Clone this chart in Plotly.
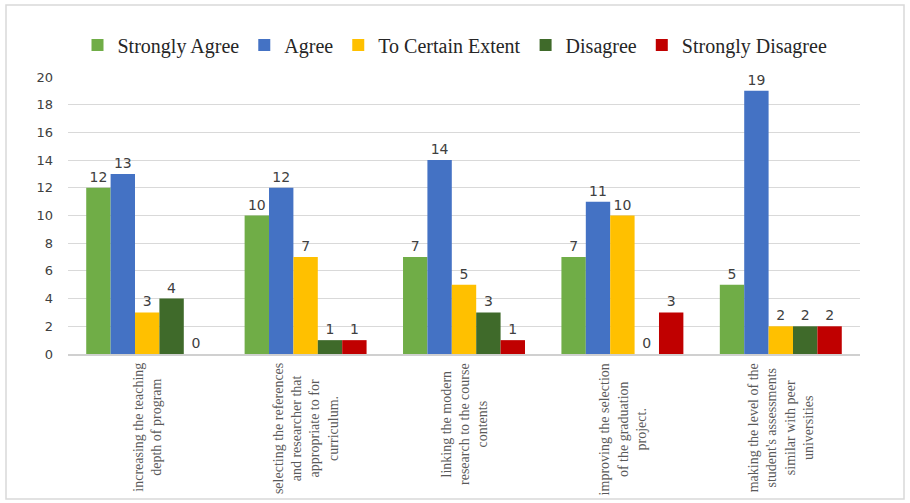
import plotly.graph_objects as go

categories = [
    "increasing the teaching depth of program",
    "selecting the references and researcher that appropriate to for curriculum.",
    "linking the modern research to the course contents",
    "improving the selection of the graduation project.",
    "making the level of the student's assessments similar with peer universities",
]
category_labels = [
    "increasing the teaching<br>depth of program",
    "selecting the references<br>and researcher that<br>appropriate to for<br>curriculum.",
    "linking the modern<br>research to the course<br>contents",
    "improving the selection<br>of the graduation<br>project.",
    "making the level of the<br>student's assessments<br>similar with peer<br>universities",
]
series_names = ["Strongly Agree", "Agree", "To Certain Extent", "Disagree", "Strongly Disagree"]
strongly_agree = [12, 10, 7, 7, 5]
agree = [13, 12, 14, 11, 19]
certain_extent = [3, 7, 5, 10, 2]
disagree = [4, 1, 3, 0, 2]
strongly_disagree = [0, 1, 1, 3, 2]
series_values = [strongly_agree, agree, certain_extent, disagree, strongly_disagree]
colors = ["#70AD47", "#4472C4", "#FFC000", "#3F6A2A", "#C00000"]
y_ticks = list(range(0, 21, 2))

fig = go.Figure()
for name, vals, col in zip(series_names, series_values, colors):
    fig.add_trace(go.Bar(
        x=categories, y=vals, name=name,
        marker=dict(color=col, line=dict(width=0)),
        text=[str(v) for v in vals], textposition="outside",
        textfont=dict(family="DejaVu Sans", size=14, color="#404040"),
        cliponaxis=False,
    ))

annotations = []
for cat, lab in zip(categories, category_labels):
    annotations.append(dict(
        x=cat, xref="x", y=-(361 - 354) / 277, yref="paper",
        text=lab, showarrow=False, textangle=-90, align="center",
        xanchor="center", yanchor="top",
        font=dict(family="Liberation Serif", size=14, color="#595959"),
    ))

fig.update_layout(
    barmode="group", bargap=0.23, bargroupgap=0,
    width=910, height=503,
    margin=dict(l=68, r=50, t=77, b=149),
    plot_bgcolor="white", paper_bgcolor="white",
    legend=dict(orientation="h", x=(455 - 68) / 792, xanchor="center",
                y=(354 - 45) / 277, yanchor="middle",
                font=dict(family="Liberation Serif", size=20, color="#262626"),
                itemwidth=30, traceorder="normal"),
    yaxis=dict(range=[0, 20], tickvals=y_ticks, showgrid=True, gridcolor="#D9D9D9",
               gridwidth=1, zeroline=False, ticks="", ticklabelstandoff=14,
               tickfont=dict(family="DejaVu Sans", size=13, color="#404040")),
    xaxis=dict(showline=True, linecolor="#D0D0D0", linewidth=2,
               ticks="", showticklabels=False),
    annotations=annotations,
    shapes=[dict(type="rect", xref="paper", yref="paper",
                 x0=(6 - 68) / 792, x1=(904 - 68) / 792,
                 y0=(354 - 499) / 277, y1=(354 - 5) / 277,
                 line=dict(color="#D9D9D9", width=1.5))],
)

fig.write_html("out.html")
